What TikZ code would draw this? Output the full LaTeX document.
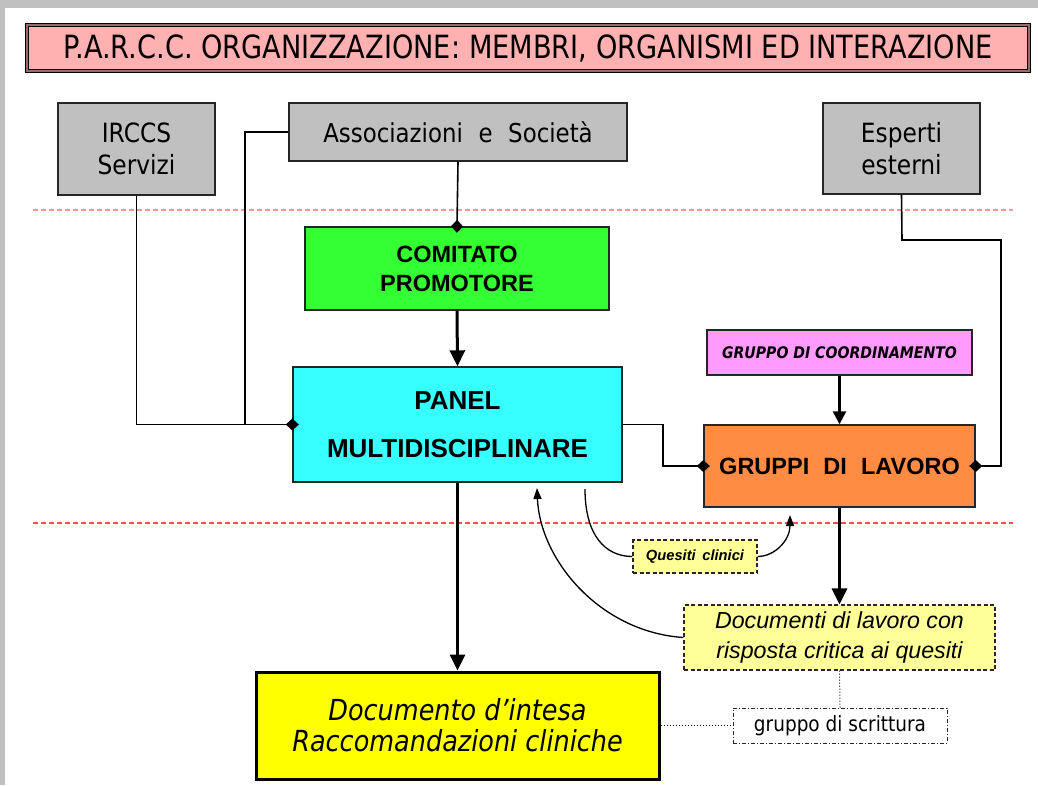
\documentclass[tikz,border=0pt]{standalone}
\usepackage{fontspec}
\setmainfont{Liberation Sans}
\newfontfamily\tah[FakeStretch=0.88]{DejaVu Sans}
\newfontfamily\tahc[FakeStretch=0.85]{DejaVu Sans}
\usetikzlibrary{arrows.meta}
\definecolor{bggray}{HTML}{C0C0C0}
\definecolor{titlepink}{HTML}{FFB0B0}
\definecolor{cgreen}{HTML}{33FF33}
\definecolor{ccyan}{HTML}{38FFFF}
\definecolor{cviolet}{HTML}{FF9BFF}
\definecolor{corange}{HTML}{FF8C42}
\definecolor{lyellow}{HTML}{FFFF99}
\definecolor{cyellow}{HTML}{FFFF00}
\definecolor{redlight}{HTML}{FF9A9A}
\definecolor{reddark}{HTML}{FF5050}
\tikzset{
  box/.style={draw=black!85, line width=1.4pt, inner sep=0pt, align=center, rectangle},
  graybox/.style={box, fill=bggray, font=\tah\fontsize{26.5}{32}\selectfont},
  boldbox/.style={box, font=\bfseries\fontsize{23.5}{29}\selectfont},
  dashbox/.style={box, fill=lyellow, dashed, line width=1.1pt, dash pattern=on 4pt off 2.5pt},
  conn/.style={line width=1.6pt, draw=black},
  diam/.style={conn, -{Diamond[length=13pt,width=12pt]}, shorten >=-6.5pt},
  bigarrow/.style={line width=3pt, -{Triangle[length=16pt,width=15pt]}},
  curvearrow/.style={line width=1.3pt, -{Triangle[length=11pt,width=8pt]}},
  sepline/.style={line width=1.2pt, dash pattern=on 5pt off 3pt},
}
\begin{document}
\begin{tikzpicture}[x=1pt,y=-1pt]
\useasboundingbox (0,0) rectangle (1038,785);
\fill[white] (0,0) rectangle (1038,785);
\fill[bggray] (0,0) rectangle (1038,8);
\fill[bggray] (0,0) rectangle (5,785);

% separators
\draw[sepline, redlight] (33,210) -- (1013,210);
\draw[sepline, reddark] (33,523) -- (1013,523);

% title
\node[box, fill=titlepink, draw=black, line width=1pt, double=titlepink!60!black, double distance=1.2pt,
      minimum width=1002pt, minimum height=46pt,
      font=\tahc\fontsize{32}{34}\selectfont] (title) at (528,48)
      {P.A.R.C.C. ORGANIZZAZIONE: MEMBRI, ORGANISMI ED INTERAZIONE};

% top boxes
\node[graybox, minimum width=157pt, minimum height=92pt] (irccs) at (136.5,149) {IRCCS\\Servizi};
\node[graybox, minimum width=338pt, minimum height=58pt, font=\tah\fontsize{26}{32}\selectfont] (asso) at (458,132) {Associazioni\hspace{0.6em}e\hspace{0.6em}Società};
\node[graybox, minimum width=157pt, minimum height=91pt] (esperti) at (901.5,148.5) {Esperti\\esterni};

% main boxes
\node[boldbox, fill=cgreen, minimum width=304pt, minimum height=83pt] (comitato) at (457,268.5) {COMITATO\\PROMOTORE};
\node[boldbox, fill=ccyan, minimum width=329pt, minimum height=115pt,
      font=\bfseries\fontsize{26}{48}\selectfont] (panel) at (457.5,424.5) {PANEL\\MULTIDISCIPLINARE};
\node[box, fill=cviolet, minimum width=265pt, minimum height=45pt,
      font=\tah\bfseries\itshape\fontsize{16}{18}\selectfont] (coord) at (839.5,352.5) {GRUPPO DI COORDINAMENTO};
\node[boldbox, fill=corange, minimum width=271pt, minimum height=82pt] (gruppi) at (839.5,466)
      {GRUPPI\hspace{0.6em}DI\hspace{0.6em}LAVORO};
\node[dashbox, minimum width=124pt, minimum height=33pt,
      font=\bfseries\itshape\fontsize{14.7}{16}\selectfont] (quesiti) at (695,556.5) {Quesiti\hspace{0.45em}clinici};
\node[dashbox, minimum width=311pt, minimum height=65pt,
      font=\itshape\fontsize{23.2}{30}\selectfont] (documenti) at (839.5,637.5)
      {Documenti di lavoro con\\risposta critica ai quesiti};
\node[box, fill=white, line width=1pt, dash pattern=on 4pt off 2pt on 1pt off 2pt,
      minimum width=214pt, minimum height=35pt,
      font=\tah\fontsize{21}{24}\selectfont] (scrittura) at (840,725.5) {gruppo di scrittura};
\node[box, fill=cyellow, draw=black, line width=3pt, minimum width=403pt, minimum height=107pt,
      font=\tah\itshape\fontsize{29}{31}\selectfont] (documento) at (457.5,725.5)
      {Documento d’intesa\\Raccomandazioni cliniche};

% junction coordinates
\coordinate (j1) at (245,424.5);
\coordinate (k1) at (663,424.5);
\coordinate (e1) at (902,240);
\coordinate (e2) at (1001,240);
\coordinate (q0) at (585,489);
\coordinate (q1) at (790,515);
\coordinate (d1) at (537,488);

% connectors
\draw[diam] (asso.south) -- (comitato.north);
\draw[diam] (irccs.south) |- (panel.west);
\draw[conn] (asso.west) -| (j1);
\draw[diam] (panel.east) -- (k1) |- (gruppi.west);
\draw[diam] (esperti.south) -- (e1) -- (e2) |- (gruppi.east);
\draw[bigarrow] (comitato.south) -- (panel.north);
\draw[line width=2.5pt, -{Triangle[length=13pt,width=13pt]}] (coord.south) -- (gruppi.north);
\draw[bigarrow] (panel.south) -- (documento.north);
\draw[bigarrow] (gruppi.south) -- (documenti.north);

\draw[line width=1.3pt] (q0) .. controls (585,535) and (605,556.5) .. (quesiti.west);
\draw[curvearrow] (quesiti.east) .. controls (775,556.5) and (790,540) .. (q1);
\draw[curvearrow] (documenti.west) .. controls (600,632) and (540,560) .. (d1);

\draw[line width=1pt, dotted] (documenti.south) -- (scrittura.north);
\draw[line width=1pt, dotted] (documento.east) -- (scrittura.west);
\end{tikzpicture}
\end{document}
